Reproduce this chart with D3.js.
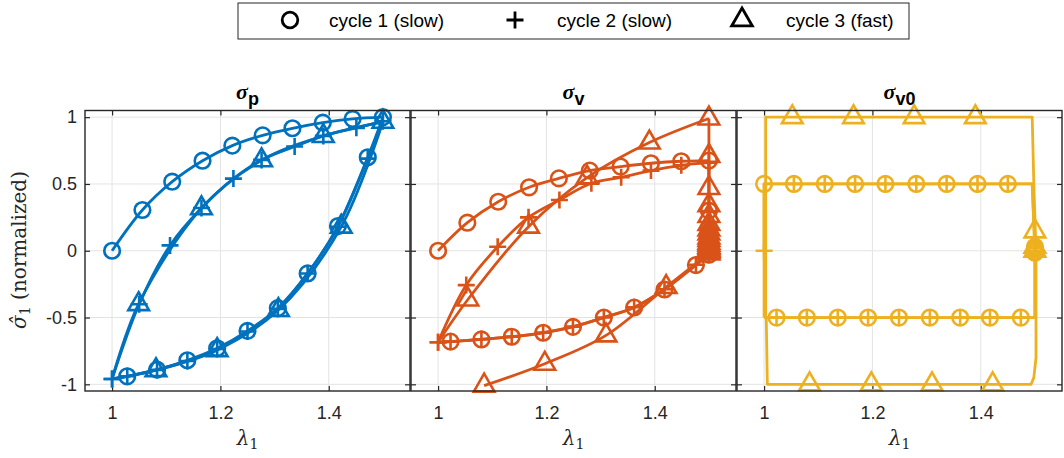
<!DOCTYPE html>
<html>
<head>
<meta charset="utf-8">
<script src="https://cdn.jsdelivr.net/npm/d3@7"></script>
<style>
  body { margin: 0; background: #fff; }
  svg { display: block; }
</style>
</head>
<body>
<script>
var W = 1064, H = 458;

var colours = ['#0072BD', '#D95319', '#EDB120'];
var titleSubs = ['p', 'v', 'v0'];
var xTicks = [1, 1.2, 1.4];
var yTicks = [-1, -0.5, 0, 0.5, 1];
var legendLabels = ['cycle 1 (slow)', 'cycle 2 (slow)', 'cycle 3 (fast)'];
var legendShapes = ['circle', 'plus', 'triangle'];

// ---- panel 1 : sigma_p  (points are [lambda1, sigma1])
var p1c1Load = [[1.0,0],[1.056,0.305],[1.111,0.517],[1.167,0.674],[1.222,0.787],[1.278,0.864],[1.333,0.917],[1.389,0.959],[1.444,0.987],[1.5,1.0]];
var p1c1Unload = [[1.5,1.0],[1.472,0.70],[1.417,0.185],[1.361,-0.17],[1.306,-0.43],[1.25,-0.60],[1.194,-0.73],[1.139,-0.82],[1.083,-0.89],[1.028,-0.94],[1.0,-0.96]];
var p1c2Load = [[1.0,-0.96],[1.05,-0.40],[1.107,0.04],[1.165,0.32],[1.224,0.54],[1.276,0.68],[1.337,0.78],[1.39,0.86],[1.451,0.92],[1.5,0.97]];
var p1c2Unload = [[1.5,0.97],[1.472,0.69],[1.417,0.18],[1.361,-0.17],[1.306,-0.435],[1.25,-0.605],[1.194,-0.735],[1.139,-0.825],[1.083,-0.892],[1.028,-0.94],[1.0,-0.96]];
var p1c3Load = [[1.0,-0.96],[1.049,-0.40],[1.165,0.318],[1.276,0.677],[1.39,0.859],[1.5,0.965]];
var p1c3Unload = [[1.5,0.965],[1.423,0.18],[1.307,-0.444],[1.194,-0.744],[1.081,-0.894],[1.0,-0.96]];

// ---- panel 2 : sigma_v
var p2c1Load = [[1,0],[1.054,0.21],[1.111,0.367],[1.168,0.475],[1.223,0.542],[1.28,0.60],[1.337,0.63],[1.393,0.655],[1.449,0.67],[1.5,0.675]];
var p2c1Relax = [[1.5,0.675],[1.5,0.30],[1.5,0.17],[1.5,0.10],[1.5,0.06],[1.5,0.03],[1.5,0.01],[1.5,-0.03]];
var p2c1Unload = [[1.5,-0.03],[1.476,-0.107],[1.418,-0.29],[1.362,-0.425],[1.306,-0.50],[1.249,-0.57],[1.194,-0.614],[1.136,-0.644],[1.08,-0.664],[1.023,-0.68],[1.0,-0.685]];
var p2c2Load = [[1,-0.685],[1.052,-0.257],[1.11,0.03],[1.167,0.25],[1.224,0.38],[1.283,0.505],[1.338,0.55],[1.393,0.60],[1.449,0.64],[1.5,0.66]];
var p2c2Relax = [[1.5,0.66],[1.5,0.29],[1.5,0.16],[1.5,0.09],[1.5,0.05],[1.5,0.02],[1.5,0.0],[1.5,-0.03]];
var p2c2Unload = [[1.5,-0.03],[1.476,-0.105],[1.418,-0.288],[1.362,-0.423],[1.306,-0.50],[1.249,-0.568],[1.194,-0.613],[1.136,-0.643],[1.08,-0.663],[1.023,-0.68],[1.0,-0.685]];
var p2c3Load = [[1,-0.685],[1.055,-0.365],[1.167,0.18],[1.275,0.547],[1.39,0.81],[1.5,0.99]];
var p2c3Relax = [[1.5,0.99],[1.5,0.71],[1.5,0.47],[1.5,0.34],[1.5,0.26],[1.5,0.20],[1.5,0.16],[1.5,0.13],[1.5,0.10],
  [1.5,0.08],[1.5,0.06],[1.5,0.045],[1.5,0.03],[1.5,0.02],[1.5,0.01],[1.5,0.0],[1.5,-0.01],[1.5,-0.02]];
var p2c3Unload = [[1.5,-0.02],[1.421,-0.272],[1.31,-0.634],[1.197,-0.846],[1.085,-1.01]];

// ---- panel 3 : sigma_v0
var p3c1Path = [[1.0,0.0],[1.0,0.5],[1.495,0.5],[1.5,0.0],[1.5,-0.5],[1.0,-0.5]];
var p3c1Marks = [[1.0,0.5],[1.055,0.5],[1.112,0.5],[1.168,0.5],[1.224,0.5],[1.281,0.5],[1.337,0.5],[1.394,0.5],[1.45,0.5],
  [1.5,0.03],[1.5,0.015],[1.5,0.005],[1.5,-0.005],[1.5,-0.015],
  [1.474,-0.5],[1.417,-0.5],[1.362,-0.5],[1.306,-0.5],[1.249,-0.5],[1.192,-0.5],[1.136,-0.5],[1.079,-0.5],[1.023,-0.5]];
var p3c2Path = [[1.0,-0.5],[1.0,0.0],[1.0,0.5],[1.495,0.5],[1.5,0.0],[1.5,-0.5],[1.0,-0.5]];
var p3c2Marks = [[1.0,0.0],[1.055,0.5],[1.112,0.5],[1.168,0.5],[1.224,0.5],[1.281,0.5],[1.337,0.5],[1.394,0.5],[1.45,0.5],
  [1.5,0.02],[1.5,0.0],[1.5,-0.02],
  [1.474,-0.5],[1.417,-0.5],[1.362,-0.5],[1.306,-0.5],[1.249,-0.5],[1.192,-0.5],[1.136,-0.5],[1.079,-0.5],[1.023,-0.5]];
var p3c3Path = [[1.003,-0.5],[1.003,1.0],[1.495,1.0],[1.498,0.5],[1.502,0.0],[1.502,-0.8],[1.498,-0.95],[1.493,-1.0],[1.006,-1.0],[1.004,-0.5]];
var p3c3Marks = [[1.052,1.0],[1.165,1.0],[1.277,1.0],[1.39,1.0],[1.5,0.145],[1.5,0.03],[1.5,0.0],
  [1.422,-1.0],[1.31,-1.0],[1.198,-1.0],[1.084,-1.0]];

// each panel: list of cycles, each cycle = branches for the line + marker points
var panels = [
  [
    { branches: [p1c1Load, p1c1Unload], smooth: true, marks: p1c1Load.concat(p1c1Unload.slice(1, -1)) },
    { branches: [p1c2Load, p1c2Unload], smooth: true, marks: p1c2Load.concat(p1c2Unload.slice(1)) },
    { branches: [p1c3Load, p1c3Unload], smooth: true, marks: p1c3Load.slice(1).concat(p1c3Unload.slice(1, -1)) }
  ],
  [
    { branches: [p2c1Load, p2c1Relax, p2c1Unload], smooth: true, marks: p2c1Load.concat(p2c1Relax.slice(1), p2c1Unload.slice(1, -1)) },
    { branches: [p2c2Load, p2c2Relax, p2c2Unload], smooth: true, marks: p2c2Load.concat(p2c2Relax.slice(1), p2c2Unload.slice(1)) },
    { branches: [p2c3Load, p2c3Relax, p2c3Unload], smooth: true, marks: p2c3Load.slice(1).concat(p2c3Relax.slice(1), p2c3Unload.slice(1)) }
  ],
  [
    { branches: [p3c1Path], smooth: false, marks: p3c1Marks },
    { branches: [p3c2Path], smooth: false, marks: p3c2Marks },
    { branches: [p3c3Path], smooth: false, marks: p3c3Marks }
  ]
];

var AX = '#262626';
var panelW = 325, panelStep = 326, panelX0 = 85;
var plotTop = 110.5, plotBottom = 391;

var svg = d3.select('body').append('svg')
  .attr('width', W).attr('height', H)
  .style('font-family', '"Liberation Sans", Arial, sans-serif');

var y = d3.scaleLinear().domain([-1.05, 1.05]).range([plotBottom, plotTop]);

function drawMarker(g, shape, cx, cy, col, sw) {
  if (shape === 'circle') {
    g.append('circle').attr('cx', cx).attr('cy', cy).attr('r', 7.8)
      .attr('fill', 'none').attr('stroke', col).attr('stroke-width', sw);
  } else if (shape === 'plus') {
    g.append('path').attr('d', 'M' + (cx - 8.5) + ',' + cy + 'H' + (cx + 8.5) + 'M' + cx + ',' + (cy - 8.5) + 'V' + (cy + 8.5))
      .attr('fill', 'none').attr('stroke', col).attr('stroke-width', sw);
  } else {
    g.append('path').attr('d', d3.symbol().type(d3.symbolTriangle).size(185)())
      .attr('transform', 'translate(' + cx + ',' + cy + ')')
      .attr('fill', 'none').attr('stroke', col).attr('stroke-width', sw)
      .attr('stroke-linejoin', 'miter');
  }
}

panels.forEach(function(cycles, pi) {
  var x0 = panelX0 + pi * panelStep;
  var x = d3.scaleLinear().domain([0.95, 1.55]).range([x0, x0 + panelW]);
  var g = svg.append('g');
  var col = colours[pi];

  // grid
  g.selectAll('.gx').data(xTicks).enter().append('line')
    .attr('x1', d => x(d)).attr('x2', d => x(d)).attr('y1', plotTop).attr('y2', plotBottom)
    .attr('stroke', '#e3e3e3').attr('stroke-width', 1);
  g.selectAll('.gy').data(yTicks).enter().append('line')
    .attr('x1', x0).attr('x2', x0 + panelW).attr('y1', d => y(d)).attr('y2', d => y(d))
    .attr('stroke', '#e3e3e3').attr('stroke-width', 1);

  // axes (ticks inside, box on)
  var fmt = d => String(d);
  var bx = g.append('g').attr('transform', 'translate(0,' + plotBottom + ')')
    .call(d3.axisBottom(x).tickValues(xTicks).tickSizeInner(-5).tickSizeOuter(0).tickPadding(15).tickFormat(fmt));
  var tx = g.append('g').attr('transform', 'translate(0,' + plotTop + ')')
    .call(d3.axisTop(x).tickValues(xTicks).tickSizeInner(-5).tickSizeOuter(0).tickFormat(''));
  var ly = g.append('g').attr('transform', 'translate(' + x0 + ',0)')
    .call(d3.axisLeft(y).tickValues(yTicks).tickSizeInner(-5).tickSizeOuter(0).tickPadding(8).tickFormat(pi === 0 ? fmt : ''));
  var ry = g.append('g').attr('transform', 'translate(' + (x0 + panelW) + ',0)')
    .call(d3.axisRight(y).tickValues(yTicks).tickSizeInner(-5).tickSizeOuter(0).tickFormat(''));
  [bx, tx, ly, ry].forEach(function(a) {
    a.select('.domain').remove();
    a.selectAll('line').attr('stroke', AX).attr('stroke-width', 1.2);
    a.selectAll('text').attr('fill', AX).style('font-size', '18px')
      .style('font-family', '"Liberation Sans", Arial, sans-serif');
  });

  // data
  var plot = g.append('g');
  cycles.forEach(function(c, ci) {
    var line = d3.line().x(d => x(d[0])).y(d => y(d[1]))
      .curve(c.smooth ? d3.curveCatmullRom.alpha(0.5) : d3.curveLinear);
    c.branches.forEach(function(b) {
      plot.append('path').attr('d', line(b))
        .attr('fill', 'none').attr('stroke', col).attr('stroke-width', 2.8)
        .attr('stroke-linejoin', 'round');
    });
    var mg = plot.append('g');
    c.marks.forEach(function(p) {
      drawMarker(mg, legendShapes[ci], x(p[0]), y(p[1]), col, 2.6);
    });
  });

  // box
  g.append('rect').attr('x', x0).attr('y', plotTop).attr('width', panelW).attr('height', plotBottom - plotTop)
    .attr('fill', 'none').attr('stroke', AX).attr('stroke-width', 1.4);

  // title
  var t = g.append('text').attr('x', x0 + panelW / 2).attr('y', 99)
    .attr('text-anchor', 'middle').attr('fill', '#000');
  t.append('tspan').text('σ').style('font-family', '"Liberation Serif", serif')
    .style('font-weight', 'bold').style('font-style', 'italic').style('font-size', '22px');
  t.append('tspan').text(titleSubs[pi]).attr('dy', 6)
    .style('font-weight', 'bold').style('font-size', '18px');

  // x label
  var xl = g.append('text').attr('x', x0 + panelW / 2).attr('y', 445)
    .attr('text-anchor', 'middle').attr('fill', AX)
    .style('font-family', '"DejaVu Serif", serif').style('font-size', '20px');
  xl.append('tspan').text('λ').style('font-style', 'italic');
  xl.append('tspan').text('1').attr('dy', 4).style('font-size', '14px');
});

// y label
var yl = svg.append('text').attr('transform', 'translate(26,250) rotate(-90)')
  .attr('text-anchor', 'middle').attr('fill', AX)
  .style('font-family', '"DejaVu Serif", serif').style('font-size', '20px');
yl.append('tspan').text('σ\u0302').style('font-style', 'italic');
yl.append('tspan').text('1').attr('dy', 4).style('font-size', '14px');
yl.append('tspan').text(' (normalized)').attr('dy', -4);

// legend
var lg = svg.append('g');
lg.append('rect').attr('x', 238).attr('y', 3).attr('width', 671).attr('height', 36)
  .attr('fill', '#fff').attr('stroke', AX).attr('stroke-width', 1);
var legSymX = [290, 515, 742];
var legTextX = [329, 557, 786];
legendLabels.forEach(function(lab, i) {
  drawMarker(lg, legendShapes[i], legSymX[i], 20, '#000', 2.8);
  lg.append('text').attr('x', legTextX[i]).attr('y', 27).text(lab)
    .attr('fill', '#000').style('font-size', '19px');
});
</script>
</body>
</html>
